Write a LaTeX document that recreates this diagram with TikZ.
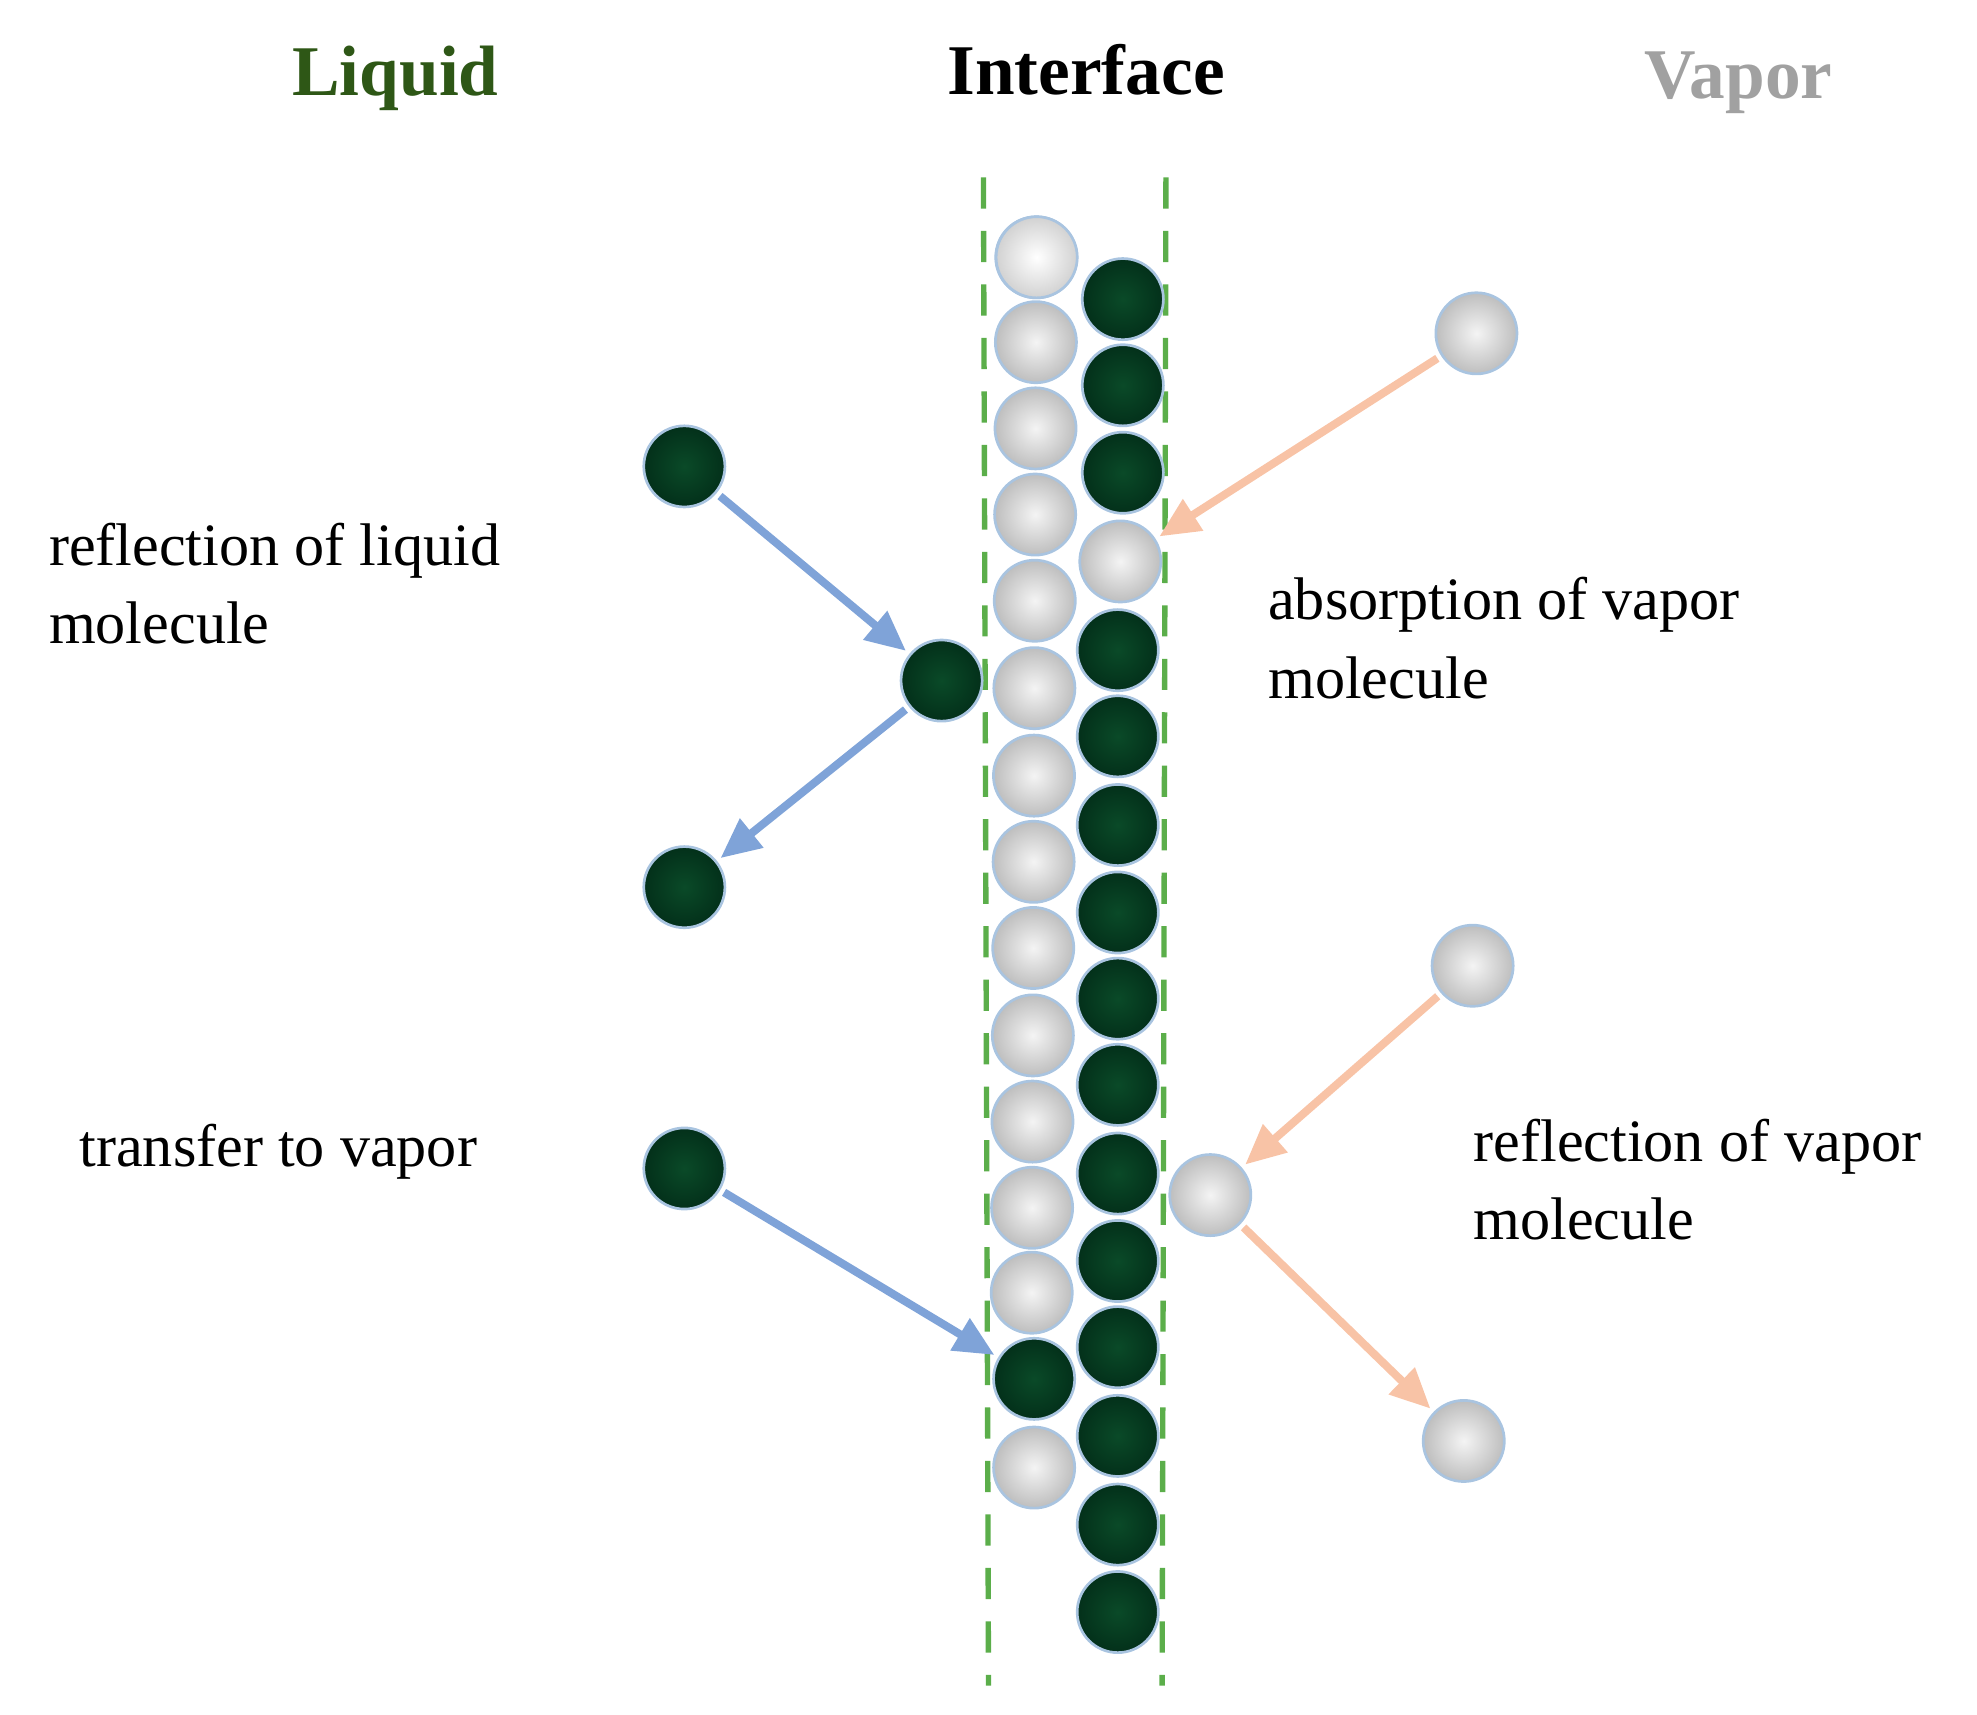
\documentclass[tikz,border=0pt]{standalone}
\usepackage{fontspec}
\setmainfont{Liberation Serif}
\usetikzlibrary{arrows.meta}
\definecolor{dg}{HTML}{0A4A28}
\definecolor{dgd}{HTML}{03301A}
\definecolor{lg}{HTML}{F4F4F4}
\definecolor{lgd}{HTML}{BEBEBE}
\definecolor{lb}{HTML}{A9C4E0}
\definecolor{barrow}{HTML}{7FA3D8}
\definecolor{oarrow}{HTML}{F8C3A6}
\definecolor{liq}{HTML}{2E5716}
\definecolor{dashgreen}{HTML}{5BAE4A}
\begin{document}
\begin{tikzpicture}[x=0.01cm,y=0.01cm,
  dark/.style={circle,minimum size=0.64cm,inner sep=0,draw=lb,line width=0.6pt,inner color=dg,outer color=dgd},
  light/.style={circle,minimum size=0.64cm,inner sep=0,draw=lb,line width=0.6pt,inner color=lg,outer color=lgd},
  ba/.style={draw=barrow,line width=1.8pt,-{Triangle[length=9pt,width=8pt]},shorten <=1pt,shorten >=1pt},
  oa/.style={draw=oarrow,line width=1.8pt,-{Triangle[length=9pt,width=8pt]},shorten <=1pt,shorten >=1pt},
  lbl/.style={font=\fontsize{13.5}{17.6}\selectfont,align=left,anchor=north west,inner sep=0},
  ttl/.style={font=\fontsize{16}{19}\selectfont\bfseries,inner sep=0},
  dl/.style={draw=dashgreen,line width=1.2pt,dash pattern=on 7pt off 5pt}]
\useasboundingbox (0,0) rectangle (1560,-1353);
\node[ttl,text=liq] (tl) at (312,-62) {Liquid};
\node[ttl] (ti) at (857,-55) {Interface};
\node[ttl,text=lgd!85!black] (tv) at (1372,-65) {Vapor};
\draw[dl] (776,-140) coordinate (da) -- (780,-1330) coordinate (db);
\draw[dl] (920,-140) coordinate (dc) -- (917,-1330) coordinate (dd);
% left column
\foreach \y [count=\i] in {203,270,338,406,474,543,612,680,748,817,885,953,1020}
  \node[light] (l\i) at (818-\i*0.3,-\y) {};
\node[light,inner color=white,outer color=lgd!70] (l1) at (818,-203) {};
\node[dark] (l14) at (816,-1088) {};
\node[light] (l15) at (816,-1158) {};
% right column
\foreach \y [count=\i] in {236,304,373}
  \node[dark] (r\i) at (886,-\y) {};
\node[light] (r4) at (884,-443) {};
\foreach \y [count=\i from 5] in {513,581,651,720,788,856,926,995,1063,1133,1203,1272}
  \node[dark] (r\i) at (882,-\y) {};
% free molecules
\node[dark] (d1) at (540,-368) {};
\node[dark] (d2) at (743,-537) {};
\node[dark] (d3) at (540,-700) {};
\node[dark] (d4) at (540,-922) {};
\node[light] (v1) at (1165,-263) {};
\node[light] (v2) at (1162,-762) {};
\node[light] (v3) at (955,-943) {};
\node[light] (v4) at (1155,-1137) {};
% arrows
\draw[ba] (d1) -- (d2);
\draw[ba] (d2) -- (d3);
\draw[ba] (d4) -- (l14);
\draw[oa] (v1) -- (r4);
\draw[oa] (v2) -- (v3);
\draw[oa] (v3) -- (v4);
% labels
\node[lbl] (t1) at (38,-412) {reflection of liquid\\molecule};
\node[lbl] (t2) at (1000,-455) {absorption of vapor\\molecule};
\node[lbl] (t3) at (62,-886) {transfer to vapor};
\node[lbl] (t4) at (1162,-882) {reflection of vapor\\molecule};
\end{tikzpicture}
\end{document}
